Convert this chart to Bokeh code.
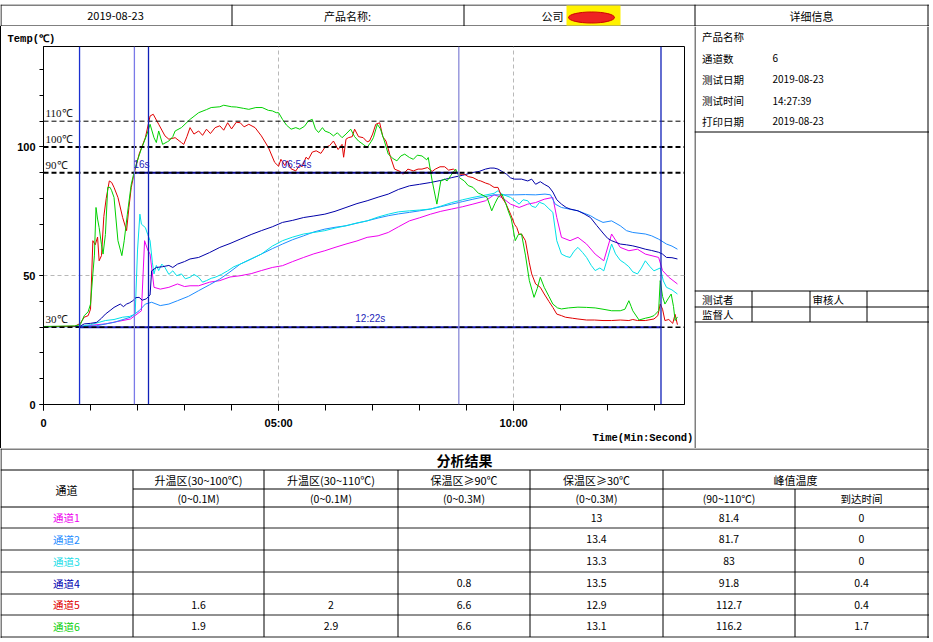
from bokeh.plotting import figure
from bokeh.models import Range1d, FixedTicker, Label, Span, Div, LinearAxis, Title
from bokeh.layouts import column, row
from bokeh.embed import file_html
from bokeh.resources import INLINE
from bokeh.core.properties import value

CJK = "Noto Sans CJK SC"

# ---------------- data (time in seconds, temperature in degC) ----------------
ch1 = [(0,30.2),(46,30.3),(79,31.3),(111,33.2),(125,36.4),(129,63.6),(133,60.0),(136,58.4),(141,45.5),(149,44.8),(160,45.5),(171,46.8),(180,45.8),(187,46.1),(198,46.1),(212,47.5),(225,48.1),(238,49.5),(251,50.0),(265,50.8),(278,52.0),(292,53.2),(305,53.9),(318,55.5),(332,57.1),(345,58.5),(359,59.7),(372,61.0),(386,62.3),(400,63.5),(413,64.9),(427,65.5),(440,66.8),(453,69.0),(467,71.3),(480,72.5),(494,73.9),(507,75.0),(521,75.9),(535,76.8),(548,77.8),(564,79.1),(575,81.4),(585,80.4),(596,77.8),(607,76.5),(618,77.8),(628,78.4),(639,79.7),(650,80.4),(655,72.6),(661,64.9),(672,63.6),(682,64.9),(693,62.3),(704,58.4),(715,55.8),(725,66.2),(736,61.0),(747,59.7),(758,60.3),(768,58.4),(785,57.1),(790,52.0),(798,49.4),(809,46.8)]
ch2 = [(0,30.2),(46,30.2),(68,30.6),(90,31.9),(111,33.9),(122,36.4),(130,39.0),(138,39.7),(149,38.4),(160,39.0),(171,40.3),(185,42.0),(198,44.2),(212,46.5),(225,48.7),(238,51.5),(251,54.5),(265,56.5),(278,58.4),(292,60.5),(305,62.3),(318,64.0),(332,65.5),(345,67.0),(359,68.1),(372,68.8),(386,69.4),(400,70.4),(413,71.3),(427,72.4),(440,73.3),(453,74.0),(467,74.6),(480,75.2),(494,75.9),(507,76.8),(521,77.8),(535,78.8),(548,79.7),(562,80.6),(575,81.4),(590,81.4),(601,81.4),(615,81.5),(628,81.4),(640,81.7),(647,81.4),(653,77.8),(661,76.5),(672,75.8),(682,75.2),(698,73.3),(705,72.0),(714,70.7),(725,71.3),(736,69.4),(744,67.5),(752,66.8),(768,66.2),(776,65.5),(785,64.2),(795,62.3),(802,61.5),(809,60.3)]
ch3 = [(0,30.2),(46,30.3),(60,31.0),(79,32.6),(90,33.0),(101,33.9),(110,34.2),(117,35.1),(120,60.0),(123,73.9),(125,70.0),(130,68.7),(133,66.0),(136,63.6),(139,55.0),(141,50.7),(144,54.0),(147,52.0),(151,54.5),(155,53.2),(160,50.5),(165,51.9),(170,50.0),(176,50.7),(181,48.8),(187,49.4),(192,50.5),(198,49.4),(203,47.5),(208,48.1),(214,49.0),(219,49.4),(227,50.5),(235,51.9),(243,53.5),(251,54.5),(265,56.5),(278,58.4),(292,61.5),(305,63.6),(318,65.0),(332,66.2),(345,66.8),(359,67.5),(372,68.5),(386,69.4),(400,70.5),(413,71.3),(427,72.8),(440,73.9),(453,74.8),(467,75.2),(480,75.5),(494,75.9),(507,77.0),(521,78.4),(535,79.5),(548,80.4),(562,81.2),(575,82.0),(580,83.0),(585,81.7),(596,80.4),(607,77.8),(612,79.5),(618,79.1),(623,77.0),(628,76.5),(633,78.5),(639,77.8),(645,76.0),(650,74.6),(655,63.6),(661,58.4),(667,57.5),(672,57.1),(677,59.5),(682,61.0),(688,59.0),(693,57.1),(699,54.0),(704,52.0),(710,53.0),(715,51.9),(720,57.0),(725,62.3),(730,58.5),(736,56.0),(741,55.0),(747,53.5),(752,51.5),(758,50.7),(763,53.0),(768,55.8),(774,53.5),(779,51.9),(787,53.0),(791,48.0),(795,45.5),(802,44.5),(809,42.9)]
ch4 = [(0,30.2),(46,30.3),(52,31.3),(60,31.5),(68,31.9),(74,33.5),(79,35.1),(85,36.5),(90,37.7),(98,39.0),(102,38.0),(106,39.0),(110,39.5),(114,40.3),(118,41.5),(122,41.6),(126,40.5),(131,41.0),(136,42.5),(138,51.9),(144,53.2),(152,53.5),(160,54.0),(165,53.2),(171,54.5),(180,55.5),(187,56.5),(198,57.1),(212,59.0),(225,61.0),(238,62.5),(251,64.2),(265,66.0),(278,67.5),(292,69.0),(305,70.7),(318,71.5),(332,72.6),(345,73.2),(359,73.9),(372,75.0),(386,76.5),(400,78.0),(413,79.1),(427,80.5),(440,81.7),(453,83.5),(467,84.9),(480,85.5),(494,86.2),(507,87.0),(521,88.1),(535,89.0),(548,90.1),(556,90.5),(564,91.4),(570,91.8),(575,91.8),(580,91.4),(585,90.5),(591,89.4),(596,88.0),(601,87.5),(610,87.5),(618,86.8),(623,87.5),(628,85.5),(634,86.5),(639,85.5),(645,84.5),(650,82.5),(655,79.5),(661,77.8),(667,76.5),(672,75.9),(682,75.2),(690,74.0),(698,72.6),(706,69.5),(715,66.2),(720,64.5),(725,63.6),(736,62.3),(744,62.0),(752,61.6),(760,61.0),(768,60.3),(776,59.8),(785,59.1),(790,58.4),(795,57.1),(802,57.0),(809,56.5)]
ch5 = [(0,30.2),(20,30.3),(40,30.4),(47,31.5),(52,33.9),(57,34.5),(60,37.0),(63,63.6),(66,62.0),(69,65.0),(71,55.8),(74,57.8),(77,73.0),(80,80.0),(84,86.8),(87,86.2),(90,84.3),(95,80.4),(101,72.6),(106,67.5),(109,76.5),(112,84.3),(116,90.1),(122,97.2),(130,103.6),(136,112.0),(140,112.7),(147,108.8),(155,104.3),(160,103.0),(168,103.6),(176,101.7),(179,101.0),(183,104.0),(187,107.5),(192,105.0),(198,106.2),(203,104.5),(208,106.9),(213,105.2),(219,107.5),(225,108.2),(230,106.5),(235,109.4),(240,107.0),(246,109.6),(251,109.4),(256,107.8),(262,108.8),(270,107.5),(278,104.3),(287,99.8),(295,94.0),(300,92.5),(303,95.2),(308,92.8),(311,94.6),(316,91.5),(322,90.7),(327,93.0),(330,92.3),(335,96.0),(338,95.2),(343,98.0),(348,98.5),(354,97.5),(359,99.8),(365,100.5),(370,102.3),(376,99.0),(381,101.0),(383,96.0),(386,103.0),(389,103.6),(394,104.0),(397,106.9),(402,104.0),(408,103.6),(413,102.0),(416,102.3),(420,105.0),(424,108.8),(429,109.4),(433,104.0),(437,102.3),(443,95.9),(448,91.4),(455,90.5),(459,89.4),(465,91.4),(472,90.7),(478,91.4),(483,91.4),(490,92.0),(496,90.5),(500,91.4),(506,92.3),(512,92.3),(517,91.0),(523,91.4),(531,89.4),(537,89.4),(542,88.5),(548,88.1),(555,87.0),(558,86.8),(564,86.0),(569,85.5),(575,84.3),(580,84.3),(585,80.4),(590,78.0),(596,73.9),(601,70.0),(604,68.7),(607,66.0),(610,66.2),(615,63.6),(620,55.0),(623,50.7),(628,46.8),(634,45.5),(639,42.9),(645,40.0),(650,37.7),(655,35.1),(661,34.5),(666,33.9),(675,33.5),(682,33.2),(693,32.8),(703,32.8),(714,32.6),(725,32.6),(736,32.8),(747,32.6),(752,33.0),(758,32.6),(768,32.6),(779,33.2),(784,34.5),(787,39.0),(790,37.0),(793,32.6),(798,33.0),(803,31.5),(806,35.0),(809,31.0)]
ch6 = [(0,30.3),(20,30.4),(40,30.5),(47,31.0),(52,34.5),(57,36.0),(60,39.0),(63,50.7),(65,58.0),(67,76.5),(69,72.0),(71,68.7),(74,62.0),(76,58.4),(79,66.0),(82,84.3),(85,84.3),(87,83.0),(90,80.4),(95,63.6),(100,57.8),(103,63.6),(107,73.9),(112,85.5),(117,92.0),(124,98.5),(132,104.9),(136,108.8),(141,103.6),(144,101.7),(147,106.2),(152,101.0),(158,102.0),(160,102.3),(165,104.0),(168,106.2),(176,107.5),(187,110.7),(198,113.3),(208,114.5),(214,115.3),(225,115.6),(230,116.2),(240,115.6),(246,115.5),(255,115.0),(262,114.6),(271,115.3),(279,115.3),(287,114.2),(292,114.0),(297,113.3),(300,113.3),(305,110.7),(310,108.5),(316,106.9),(322,107.5),(327,106.9),(333,108.0),(338,110.1),(343,110.7),(347,107.0),(351,105.6),(356,107.5),(359,106.2),(365,105.5),(370,104.3),(375,105.5),(381,103.6),(386,105.0),(392,106.9),(397,104.0),(402,102.3),(408,101.0),(413,99.8),(418,102.0),(421,103.6),(426,108.8),(430,107.0),(435,102.3),(440,97.2),(446,95.5),(451,94.6),(456,96.5),(461,97.2),(467,95.9),(472,95.2),(477,96.8),(483,96.5),(489,95.0),(491,95.9),(496,86.8),(502,77.8),(507,86.8),(512,87.5),(515,86.8),(520,89.0),(526,91.4),(531,88.0),(537,86.8),(542,85.0),(548,84.3),(555,82.0),(558,81.7),(566,80.4),(572,75.2),(576,78.0),(580,80.4),(585,81.7),(590,78.0),(593,75.2),(597,72.0),(602,63.6),(606,66.0),(610,66.2),(615,58.0),(620,48.1),(626,41.6),(630,45.0),(634,49.4),(639,45.5),(645,42.0),(650,39.0),(656,37.5),(661,37.1),(670,37.5),(682,37.8),(693,37.7),(704,37.5),(714,37.0),(725,36.4),(736,36.4),(742,37.0),(747,40.3),(750,38.0),(752,36.4),(760,32.8),(768,33.5),(774,33.9),(779,34.5),(785,36.4),(787,48.1),(790,42.0),(793,39.0),(797,41.0),(801,42.9),(804,38.0),(806,32.6),(809,34.0)]

series = [ch1, ch2, ch3, ch4, ch5, ch6]
series_colors = ["#ee00ee", "#1e8cff", "#00e0e8", "#0000a8", "#e00000", "#00d000"]

x_major = [0, 300, 600]
x_labels = ["0", "05:00", "10:00"]
x_minor = [0, 60, 120, 180, 240, 300, 360, 420, 480, 540, 600, 660, 720, 780]
y_major = [0, 50, 100]
y_minor = [0, 10, 20, 30, 40, 50, 60, 70, 80, 90, 100, 110, 120, 130]
y_title = "Temp(℃)"
x_title = "Time(Min:Second)"
x_title_at = 765

ref_levels = [110, 100, 90, 30]
ref_widths = [1, 2, 2, 1.5]

marker_t = [46, 116, 134, 530, 788]
marker_colors = ["#1a2fd0", "#7a7ae8", "#1020b8", "#8a8ad8", "#1020b8"]
hold_start = [116, 46]
hold_end = [530, 788]
hold_level = [90, 30]
hold_colors = ["#0a0a90", "#1414b0"]
hold_texts = ["06:54s", "12:22s"]
gap_text = "16s"

# table data
channels = ["通道1", "通道2", "通道3", "通道4", "通道5", "通道6"]
channel_colors = ["#ee00ee", "#1e8cff", "#22dde8", "#0000b0", "#e00000", "#10d010"]
rise100 = ["", "", "", "", "1.6", "1.9"]
rise110 = ["", "", "", "", "2", "2.9"]
hold90 = ["", "", "", "0.8", "6.6", "6.6"]
hold30 = ["13", "13.4", "13.3", "13.5", "12.9", "13.1"]
peak = ["81.4", "81.7", "83", "91.8", "112.7", "116.2"]
reach = ["0", "0", "0", "0.4", "0.4", "1.7"]
head1 = ["升温区(30~100℃)", "升温区(30~110℃)", "保温区≥90℃", "保温区≥30℃"]
head2 = ["(0~0.1M)", "(0~0.1M)", "(0~0.3M)", "(0~0.3M)", "(90~110℃)", "到达时间"]

info_labels = ["产品名称", "通道数", "测试日期", "测试时间", "打印日期"]
info_values = ["", "6", "2019-08-23", "14:27:39", "2019-08-23"]


def blank(w, h, xr, yr):
    f = figure(width=w, height=h, x_range=Range1d(*xr), y_range=Range1d(*yr),
               output_backend="svg", toolbar_location=None, title=None,
               min_border=0, x_axis_type=None, y_axis_type=None)
    f.outline_line_color = None
    f.background_fill_color = "white"
    f.border_fill_color = "white"
    f.frame_align = False
    return f

# ---------------- header ----------------
hdr = blank(929, 22, (0, 929), (22, 0))
hdr.segment(x0=[0, 0], y0=[0.5, 21.5], x1=[929, 929], y1=[0.5, 21.5], line_color="black", line_width=1)
hx = [0.5, 231.5, 463.5, 694.5, 927.5]
hdr.segment(x0=hx, y0=[0] * 5, x1=hx, y1=[22] * 5, line_color="black", line_width=1)
hdr.quad(left=[566], right=[620], top=[1], bottom=[21], fill_color="#fff200", line_color=None)
hdr.ellipse(x=[591], y=[13], width=[46], height=[11], fill_color="#ee2222", line_color="#cc0000")
hdr.text(x=[115, 347, 811], y=[11.5] * 3, text=["2019-08-23", "产品名称:", "详细信息"],
         text_align="center", text_baseline="middle", text_font=value(CJK), text_font_size="11px", text_color="black")
hdr.text(x=[541], y=[11.5], text=["公司"], text_align="left", text_baseline="middle",
         text_font=value(CJK), text_font_size="11px", text_color="black")

# ---------------- chart ----------------
p = figure(width=693, height=422, x_range=Range1d(0, 818), y_range=Range1d(0, 139),
           output_backend="svg", toolbar_location=None,
           min_border_left=42, min_border_right=10, min_border_top=20, min_border_bottom=44)
p.frame_align = False
p.title = Title(text=y_title, align="left", offset=-36, standoff=4, text_font="Liberation Mono",
                text_font_style="bold", text_font_size="10.5px", text_color="black")
p.background_fill_color = "white"
p.border_fill_color = "white"
p.outline_line_color = "black"
p.outline_line_width = 1

xa = p.xaxis[0]
xa.ticker = FixedTicker(ticks=x_major, minor_ticks=x_minor)
xa.major_label_overrides = dict(zip(x_major, x_labels))
xa.major_tick_out = 6
xa.major_tick_in = 0
xa.minor_tick_out = 6
xa.minor_tick_in = 0
xa.major_label_standoff = 6
xa.major_label_text_align = "left"
ya = p.yaxis[0]
ya.ticker = FixedTicker(ticks=y_major, minor_ticks=y_minor)
ya.major_tick_out = 4
ya.major_tick_in = 0
ya.minor_tick_out = 4
ya.minor_tick_in = 0
ya.major_label_standoff = 4
for ax in (xa, ya):
    ax.axis_line_color = "black"
    ax.major_tick_line_color = "black"
    ax.minor_tick_line_color = "black"
    ax.major_label_text_font = "Liberation Sans"
    ax.major_label_text_font_style = "bold"
    ax.major_label_text_font_size = "11px"
    ax.major_label_text_color = "black"

xt = LinearAxis(ticker=FixedTicker(ticks=[x_title_at]), major_label_overrides={x_title_at: x_title},
                axis_line_color=None, major_tick_line_color=None, minor_tick_line_color=None,
                major_tick_out=0, minor_tick_out=0, major_tick_in=0, minor_tick_in=0,
                major_label_standoff=0, major_label_text_font="Liberation Mono",
                major_label_text_font_style="bold", major_label_text_font_size="10.5px",
                major_label_text_color="black")
p.add_layout(xt, "below")

p.xgrid.ticker = FixedTicker(ticks=[300, 600])
p.ygrid.ticker = FixedTicker(ticks=[50])
p.grid.grid_line_color = "#b8b8b8"
p.grid.grid_line_dash = "4 3"

for s, c in zip(series, series_colors):
    p.line([a for a, b in s], [b for a, b in s], line_color=c, line_width=1)

p.segment(x0=hold_start, y0=hold_level, x1=hold_end, y1=hold_level, line_color=hold_colors, line_width=2)

for lv, w in zip(ref_levels, ref_widths):
    p.add_layout(Span(location=lv, dimension="width", line_color="black", line_width=w, line_dash="5 3"))
    p.add_layout(Label(x=0, y=lv, x_offset=2, y_offset=2, text=f"{lv}℃", text_font="Liberation Serif",
                       text_font_size="11px", text_baseline="bottom", text_color="#111111"))

for t, c in zip(marker_t, marker_colors):
    p.add_layout(Span(location=t, dimension="height", line_color=c, line_width=1.3))

for a, b, lv, txt in zip(hold_start, hold_end, hold_level, hold_texts):
    p.add_layout(Label(x=(a + b) / 2, y=lv, y_offset=3, text=txt, text_font="Liberation Sans",
                       text_font_size="10px", text_align="center", text_baseline="bottom", text_color="#2424b8"))
p.add_layout(Label(x=(marker_t[1] + marker_t[2]) / 2, y=hold_level[0], y_offset=3, text=gap_text,
                   text_font="Liberation Sans", text_font_size="10px", text_align="center",
                   text_baseline="bottom", text_color="#2424b8"))

left_line = Div(width=1, height=422, margin=0, styles={"background-color": "black"})

# ---------------- info panel ----------------
pan = blank(235, 422, (0, 235), (422, 0))
pan.segment(x0=[0.5, 233.5], y0=[0, 0], x1=[0.5, 233.5], y1=[422, 422], line_color="black", line_width=1)
pan.segment(x0=[0, 0, 0, 0], y0=[105.5, 264.5, 280.5, 295.5], x1=[235] * 4, y1=[105.5, 264.5, 280.5, 295.5],
            line_color="black", line_width=1)
vx = [57.5, 115.5, 172.5]
pan.segment(x0=vx, y0=[264.5] * 3, x1=vx, y1=[295.5] * 3, line_color="black", line_width=1)
iy = [10, 31.5, 52.5, 73.5, 94.5]
pan.text(x=[7.5] * 5, y=iy, text=info_labels, text_align="left", text_baseline="middle",
         text_font=value(CJK), text_font_size="10.5px", text_color="black")
pan.text(x=[78] * 5, y=iy, text=info_values, text_align="left", text_baseline="middle",
         text_font=value(CJK), text_font_size="10px", text_color="black")
pan.text(x=[7.5, 118, 7.5], y=[272.5, 272.5, 288], text=["测试者", "审核人", "监督人"], text_align="left",
         text_baseline="middle", text_font=value(CJK), text_font_size="10.5px", text_color="black")

# ---------------- analysis table ----------------
tb = blank(929, 190, (0, 929), (190, 0))
col_x = [0.5, 132.5, 263.5, 397.5, 529.5, 662.5, 794.5, 927.5]
row_y = [58.5, 79.5, 101.5, 123.5, 145.5, 166.5, 188.5]
tb.segment(x0=[0] * 3, y0=[0.5, 21.5, 58.5], x1=[929] * 3, y1=[0.5, 21.5, 58.5], line_color="black", line_width=1)
tb.segment(x0=[0] * 6, y0=row_y[1:], x1=[929] * 6, y1=row_y[1:], line_color="#222222", line_width=1)
tb.segment(x0=[132.5], y0=[40.5], x1=[929], y1=[40.5], line_color="black", line_width=1)
tb.segment(x0=[0.5, 927.5], y0=[0, 0], x1=[0.5, 927.5], y1=[190, 190], line_color="black", line_width=1)
inner = col_x[1:6]
tb.segment(x0=inner, y0=[21.5] * 5, x1=inner, y1=[188.5] * 5, line_color="black", line_width=1)
tb.segment(x0=[794.5], y0=[40.5], x1=[794.5], y1=[188.5], line_color="black", line_width=1)

centers = [(col_x[i] + col_x[i + 1]) / 2 for i in range(1, 7)]
tb.text(x=[464], y=[11], text=["分析结果"], text_align="center", text_baseline="middle",
        text_font=value(CJK), text_font_size="14px", text_font_style="bold", text_color="black")
tb.text(x=centers[:4] + [(col_x[5] + col_x[7]) / 2], y=[31] * 5, text=head1 + ["峰值温度"],
        text_align="center", text_baseline="middle", text_font=value(CJK), text_font_size="11px", text_color="black")
tb.text(x=centers, y=[49.5] * 6, text=head2, text_align="center", text_baseline="middle",
        text_font=value(CJK), text_font_size="10.5px", text_color="black")
tb.text(x=[66], y=[41], text=["通道"], text_align="center", text_baseline="middle",
        text_font=value(CJK), text_font_size="11px", text_color="black")
rc = [(row_y[i] + row_y[i + 1]) / 2 for i in range(6)]
tb.text(x=[66] * 6, y=rc, text=channels, text_color=channel_colors, text_align="center", text_baseline="middle",
        text_font=value(CJK), text_font_size="10.5px")
for cx, vals in zip(centers, [rise100, rise110, hold90, hold30, peak, reach]):
    tb.text(x=[cx] * 6, y=rc, text=vals, text_align="center", text_baseline="middle",
            text_font=value(CJK), text_font_size="10.5px", text_color="black")

layout = column(hdr, row(left_line, p, pan), tb, margin=(4, 0, 0, 0))

open("out.html", "w").write(file_html(layout, INLINE))
